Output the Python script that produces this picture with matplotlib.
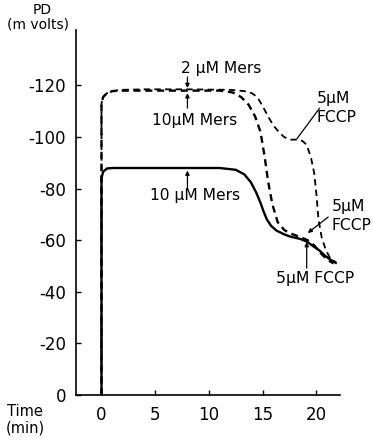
import matplotlib
matplotlib.use("Agg")
import matplotlib.pyplot as plt
from matplotlib.ticker import FixedLocator, FuncFormatter

plt.rcParams['font.family'] = ['DejaVu Sans']
plt.rcParams['axes.unicode_minus'] = False

# Membrane potential traces (PD, mV) against time (min)
time_10_solid = [0, 0, 0.15, 0.5, 1, 3, 6, 9, 11, 12.5, 13.3, 13.9, 14.4, 14.8, 15.1, 15.4,
                 15.8, 16.3, 17, 17.5, 18.5, 19.1, 19.6, 20.3, 20.8, 21.3, 21.9]
pd_10_solid = [0, -84, -86.5, -87.8, -88, -88, -88, -88, -88, -87.3, -85.5, -82.5, -78.5,
               -74.5, -71, -68, -65.5, -63.7, -62.3, -61.5, -60.5, -59.5, -58, -56, -54,
               -52.5, -51]

time_10_dash = [0, 0, 0.15, 0.5, 1, 1.8, 4, 8, 11, 12.2, 13, 13.7, 14.3, 14.8, 15.2, 15.5,
                15.9, 16.4, 17, 17.5, 18.5, 19.2, 19.8, 20.4, 21, 21.6]
pd_10_dash = [0, -113, -115.5, -117, -117.8, -118, -118, -118, -118, -117.3, -115.5,
              -112.5, -108, -102, -92, -83, -74, -67, -64, -62.8, -61.2, -60, -58, -55,
              -52.5, -51]

time_2_dash = [0, 0, 0.15, 0.5, 1, 1.8, 4, 8, 12, 13.3, 14, 14.5, 15, 15.5, 16, 16.5, 17,
               17.6, 18.2, 18.7, 19.1, 19.5, 19.8, 20.0, 20.2, 20.5, 20.9, 21.3, 21.8]
pd_2_dash = [0, -113, -115.5, -117, -117.8, -118.3, -118.5, -118.5, -118.3, -117.8, -117,
             -115.5, -112, -108, -104.5, -102, -100, -99, -99, -98.5, -97, -92, -86, -78,
             -68, -61, -56, -53, -51.5]

y_ticks = [0, -20, -40, -60, -80, -100, -120]
x_ticks = [0, 5, 10, 15, 20]

W, H = 373, 440
fig = plt.figure(figsize=(W / 100, H / 100), dpi=100)
ax = fig.add_axes([75.7 / W, (H - 395) / H, (340 - 75.7) / W, (395 - 30) / H])

ax.plot(time_10_solid, pd_10_solid, color='black', lw=1.7, solid_capstyle='butt', clip_on=False)
ax.plot(time_10_dash, pd_10_dash, color='black', lw=1.7, dashes=(3.0, 2.0), clip_on=False)
ax.plot(time_2_dash, pd_2_dash, color='black', lw=1.3, dashes=(3.5, 2.4), clip_on=False)

ax.set_xlim(-2.4, 22.2)
ax.set_ylim(0, -141.5)

for s in ['top', 'right']:
    ax.spines[s].set_visible(False)
for s in ['left', 'bottom']:
    ax.spines[s].set_linewidth(1.2)

ax.xaxis.set_major_locator(FixedLocator(x_ticks))
ax.yaxis.set_major_locator(FixedLocator(y_ticks))
ax.yaxis.set_major_formatter(FuncFormatter(lambda v, p: f"{int(round(v))}"))
ax.xaxis.set_major_formatter(FuncFormatter(lambda v, p: f"{int(round(v))}"))
ax.tick_params(axis='both', direction='in', length=3.5, width=1.0, labelsize=12)
ax.tick_params(axis='y', pad=7)
ax.tick_params(axis='x', pad=8)

fs = 11.2
arrow = dict(arrowstyle='-|>', color='black', lw=0.9, mutation_scale=6,
             shrinkA=0, shrinkB=0)
line = dict(arrowstyle='-', color='black', lw=0.9, shrinkA=0, shrinkB=0)

ax.text(11.1, -126.7, "2 μM Mers", ha='center', va='center', fontsize=fs)
ax.annotate("", xy=(8, -119), xytext=(8, -123.3), arrowprops=arrow)
ax.text(8.67, -106.6, "10μM Mers", ha='center', va='center', fontsize=fs)
ax.annotate("", xy=(8, -117), xytext=(8, -111.2), arrowprops=arrow)
ax.text(8.67, -77.5, "10 μM Mers", ha='center', va='center', fontsize=fs)
ax.annotate("", xy=(8, -87), xytext=(8, -80.2), arrowprops=arrow)

ax.text(20.0, -111.2, "5μM\nFCCP", ha='left', va='center', fontsize=fs, linespacing=1.3)
ax.annotate("", xy=(18.2, -99.4), xytext=(20.3, -111.2), arrowprops=line)
ax.text(21.4, -69.4, "5μM\nFCCP", ha='left', va='center', fontsize=fs, linespacing=1.3)
ax.annotate("", xy=(19.2, -62.8), xytext=(21.1, -69), arrowprops=arrow)
ax.text(19.9, -45.3, "5μM FCCP", ha='center', va='center', fontsize=fs)
ax.annotate("", xy=(19.1, -59.3), xytext=(19.1, -49.2), arrowprops=arrow)

fig.text(42 / W, 1 - 10 / H, "PD", ha='center', va='center', fontsize=10)
fig.text(38 / W, 1 - 25 / H, "(m volts)", ha='center', va='center', fontsize=10)
fig.text(25 / W, 1 - 411 / H, "Time", ha='center', va='center', fontsize=10.5)
fig.text(25 / W, 1 - 428 / H, "(min)", ha='center', va='center', fontsize=10.5)

fig.savefig("out.png", dpi=100)
